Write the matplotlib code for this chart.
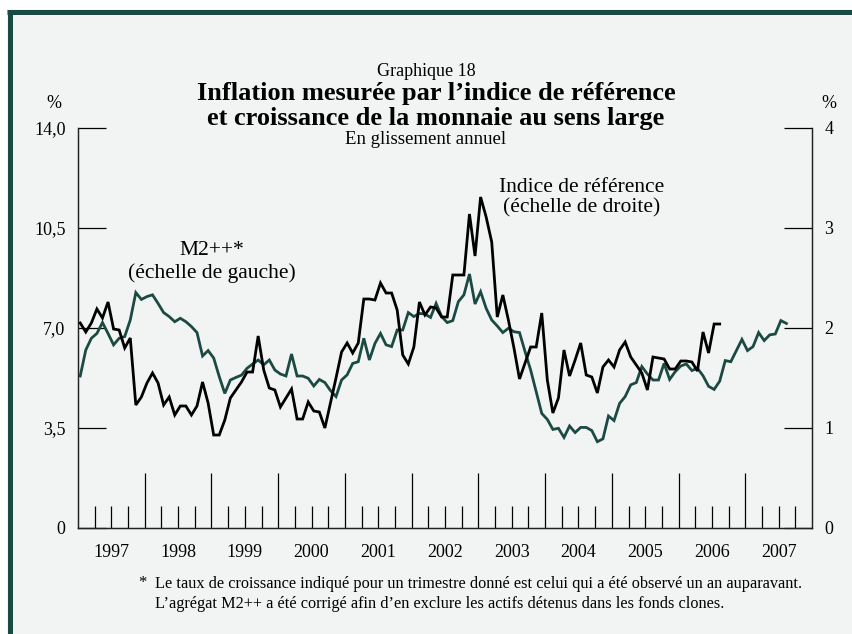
import matplotlib
matplotlib.use("Agg")
import matplotlib.pyplot as plt
from matplotlib.patches import Rectangle
from matplotlib.lines import Line2D
import numpy as np

plt.rcParams['font.family'] = ['Liberation Serif', 'DejaVu Serif']

# monthly values, Jan 1997 onward
# Indice de référence (right scale, %), Jan 1997 - Aug 2006
cpi = [2.05, 1.96, 2.05, 2.19, 2.10, 2.26, 1.99, 1.98, 1.80, 1.90, 1.23, 1.31,
       1.45, 1.55, 1.45, 1.23, 1.31, 1.13, 1.22, 1.22, 1.13, 1.22, 1.46, 1.25,
       0.93, 0.93, 1.08, 1.30, 1.38, 1.46, 1.56, 1.56, 1.92, 1.58, 1.40, 1.38,
       1.21, 1.30, 1.39, 1.09, 1.09, 1.26, 1.17, 1.16, 1.00, 1.25, 1.50, 1.76,
       1.85, 1.75, 1.85, 2.29, 2.29, 2.28, 2.45, 2.35, 2.35, 2.18, 1.73, 1.64,
       1.81, 2.26, 2.13, 2.21, 2.20, 2.11, 2.11, 2.53, 2.53, 2.53, 3.14, 2.72,
       3.31, 3.11, 2.86, 2.11, 2.33, 2.08, 1.80, 1.49, 1.65, 1.81, 1.81, 2.15,
       1.48, 1.15, 1.30, 1.78, 1.52, 1.68, 1.85, 1.53, 1.51, 1.35, 1.61, 1.68,
       1.61, 1.78, 1.86, 1.71, 1.63, 1.55, 1.38, 1.71, 1.70, 1.69, 1.59, 1.59,
       1.67, 1.67, 1.66, 1.57, 1.96, 1.75, 2.04, 2.04]

# M2++ (left scale, %), shifted one year, Jan 1997 - Aug 2007
m2 = [5.32, 6.23, 6.64, 6.81, 7.19, 6.81, 6.41, 6.64, 6.70, 7.28, 8.24, 8.00,
      8.10, 8.16, 7.86, 7.54, 7.40, 7.22, 7.34, 7.22, 7.05, 6.84, 6.02, 6.21,
      5.95, 5.30, 4.71, 5.18, 5.27, 5.35, 5.59, 5.74, 5.88, 5.71, 5.88, 5.53,
      5.39, 5.32, 6.09, 5.32, 5.32, 5.24, 4.97, 5.20, 5.09, 4.81, 4.60, 5.18,
      5.36, 5.76, 5.82, 6.64, 5.88, 6.46, 6.81, 6.41, 6.35, 6.93, 6.93, 7.54,
      7.40, 7.51, 7.49, 7.37, 7.86, 7.40, 7.19, 7.26, 7.92, 8.16, 8.89, 7.84,
      8.27, 7.69, 7.28, 7.07, 6.84, 6.99, 6.87, 6.84, 6.17, 5.53, 4.77, 4.01,
      3.80, 3.45, 3.49, 3.17, 3.57, 3.34, 3.52, 3.52, 3.41, 3.02, 3.12, 3.92,
      3.76, 4.36, 4.60, 5.01, 5.09, 5.65, 5.39, 5.18, 5.18, 5.76, 5.20, 5.47,
      5.67, 5.74, 5.51, 5.59, 5.33, 4.96, 4.85, 5.14, 5.86, 5.82, 6.21, 6.60,
      6.21, 6.35, 6.84, 6.56, 6.76, 6.79, 7.26, 7.16]

years = list(range(1997, 2008))
left_ticks = [0, 3.5, 7.0, 10.5, 14.0]
left_labels = ['0', '3,5', '7,0', '10,5', '14,0']
right_ticks = [0, 1, 2, 3, 4]

bg = '#f2f4f3'
green = '#1b4a43'

fig = plt.figure(figsize=(8.53, 6.34), dpi=100)
fig.patch.set_facecolor('white')
W, H = 853, 634
fig.patches.append(Rectangle((7 / W, 0), 1, 1 - 9 / H, transform=fig.transFigure,
                             facecolor=bg, edgecolor='none', zorder=-5))
fig.lines.append(Line2D([9.5 / W, 9.5 / W], [0, 1 - 11.5 / H], transform=fig.transFigure,
                        color=green, lw=3.6, zorder=-4, solid_capstyle='butt'))
fig.lines.append(Line2D([7 / W, 1], [1 - 11.5 / H, 1 - 11.5 / H], transform=fig.transFigure,
                        color=green, lw=3.6, zorder=-4, solid_capstyle='butt'))

ax = fig.add_axes([78 / W, 1 - 528 / H, (812 - 78) / W, 400 / H])
ax.set_facecolor(bg)
ax2 = ax.twinx()

x_cpi = 1997 + (np.arange(len(cpi)) + 0.4) / 12
x_m2 = 1997 + (np.arange(len(m2)) + 0.4) / 12

ax.plot(x_m2, m2, color=green, lw=2.0, solid_joinstyle='miter', zorder=3)
ax2.plot(x_cpi, cpi, color='black', lw=2.0, solid_joinstyle='miter', zorder=4)

ax.set_xlim(1997, 2008)
ax.set_ylim(0, 14)
ax2.set_ylim(0, 4)

ax.spines['top'].set_visible(False)
ax2.spines['top'].set_visible(False)
for a in (ax, ax2):
    for s in a.spines.values():
        s.set_linewidth(0.9)
        s.set_color('#222222')

ax.set_yticks(left_ticks)
ax.set_yticklabels(left_labels)
ax2.set_yticks(right_ticks)
ax.tick_params(axis='y', direction='in', length=20, width=0.9, pad=9, labelsize=13)
ax2.tick_params(axis='y', direction='in', length=20, width=0.9, pad=9, labelsize=13)

ax.set_xticks(years[1:])
ax.set_xticks([y + q / 4 for y in years for q in (1, 2, 3)], minor=True)
ax.tick_params(axis='x', which='major', direction='in', length=39.5, width=0.9, labelbottom=False)
ax.tick_params(axis='x', which='minor', direction='in', length=15.5, width=0.9, labelbottom=False)
for y in years:
    ax.text(y + 0.5, -0.062, str(y), transform=ax.get_xaxis_transform(),
            ha='center', va='center', fontsize=13)

fig.text(54 / W, 1 - 103 / H, '%', ha='center', va='center', fontsize=13)
fig.text(829 / W, 1 - 103 / H, '%', ha='center', va='center', fontsize=13)

fig.text(426 / W, 1 - 72 / H, 'Graphique 18', ha='center', va='center', fontsize=13)
fig.text(436 / W, 1 - 106 / H,
         'Inflation mesurée par l’indice de référence\net croissance de la monnaie au sens large',
         ha='center', va='center', fontsize=19, fontweight='bold', linespacing=1.07)
fig.text(426 / W, 1 - 140 / H, 'En glissement annuel', ha='center', va='center', fontsize=13.5)

ax.text(1999.0, 9.3, 'M2++*\n(échelle de gauche)', ha='center', va='center',
        fontsize=15.5, linespacing=1.2)
ax.text(2004.55, 11.55, 'Indice de référence\n(échelle de droite)', ha='center', va='center',
        fontsize=15.5, linespacing=1.12)

fig.text(142 / W, 1 - 583 / H, '*', ha='center', va='center', fontsize=12)
fig.text(155 / W, 1 - 594 / H,
         'Le taux de croissance indiqué pour un trimestre donné est celui qui a été observé un an auparavant.\n'
         'L’agrégat M2++ a été corrigé afin d’en exclure les actifs détenus dans les fonds clones.',
         ha='left', va='center', fontsize=11.7, linespacing=1.35)

fig.savefig('out.png', dpi=100, facecolor=fig.get_facecolor())
